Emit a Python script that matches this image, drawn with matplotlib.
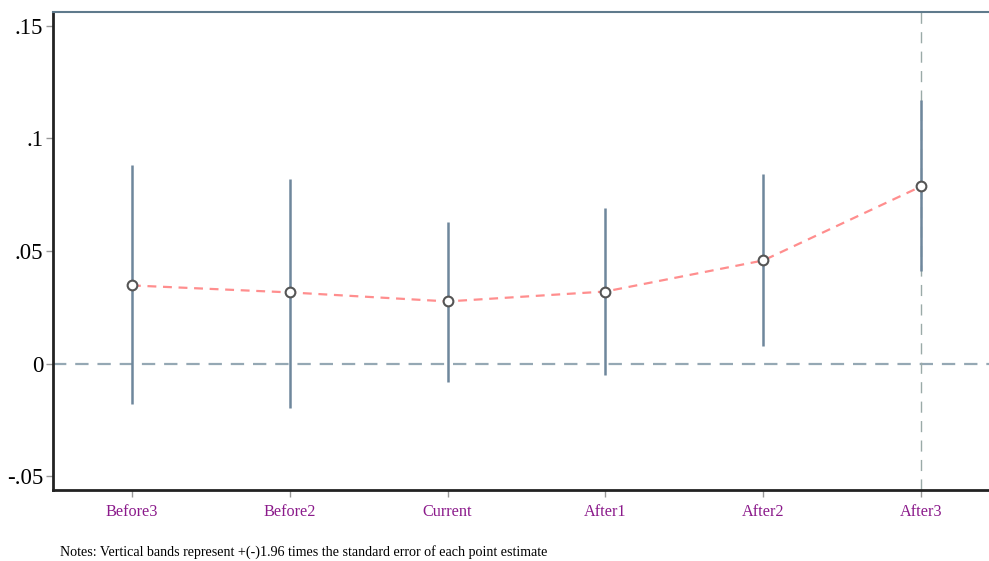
import matplotlib
matplotlib.use("Agg")
import matplotlib.pyplot as plt
import numpy as np

categories = ["Before3", "Before2", "Current", "After1", "After2", "After3"]
estimates = [0.0347, 0.0316, 0.0276, 0.0320, 0.0458, 0.0787]
ci_low = [-0.0182, -0.0196, -0.0080, -0.0053, 0.0076, 0.0409]
ci_high = [0.0880, 0.0822, 0.0631, 0.0693, 0.0844, 0.1173]
yticks = [-0.05, 0, 0.05, 0.1, 0.15]
ytick_labels = ["-.05", "0", ".05", ".1", ".15"]
note = "Notes: Vertical bands represent +(-)1.96 times the standard error of each point estimate"

plt.rcParams['font.family'] = ['Liberation Serif', 'DejaVu Serif']

fig = plt.figure(figsize=(9.89, 5.61), dpi=100)
ax = fig.add_axes([53/989, 1 - 490/561, 1 - 53/989, (490 - 12)/561])

x = np.arange(1, len(categories) + 1)
ax.set_xlim(0.5, 6.43)
ax.set_ylim(-0.0562, 0.1562)

ax.axhline(0, color="#95a8b4", lw=1.6, ls=(0, (6, 4)), zorder=1)
ax.axvline(x[-1], color="#9aaaa8", lw=1.0, ls=(0, (8, 6)), zorder=1)

ax.vlines(x, ci_low, ci_high, color="#6e879c", lw=1.8, zorder=2)
ax.plot(x, estimates, color="#ff8e8e", lw=1.6, ls=(0, (4, 3)), zorder=3)
ax.plot(x, estimates, ls="none", marker="o", ms=7, mfc="white", mec="#555555", mew=1.5, zorder=4)

ax.set_xticks(x)
ax.set_xticklabels(categories, color="#8b1a8b", fontsize=11.7)
ax.set_yticks(yticks)
ax.set_yticklabels(ytick_labels, fontsize=16.5)
ax.tick_params(axis="both", direction="out", length=5, width=1, color="#999999")
ax.tick_params(axis="y", pad=2)
ax.tick_params(axis="x", pad=5)

ax.spines["right"].set_visible(False)
ax.spines["top"].set_color("#5f7a8c")
ax.spines["top"].set_linewidth(1.5)
ax.spines["left"].set_color("#222222")
ax.spines["left"].set_linewidth(2)
ax.spines["bottom"].set_color("#222222")
ax.spines["bottom"].set_linewidth(2)

fig.text(60/989, 1 - 552/561, note, fontsize=10.1, va="center", ha="left")

fig.savefig("out.png", dpi=100)
